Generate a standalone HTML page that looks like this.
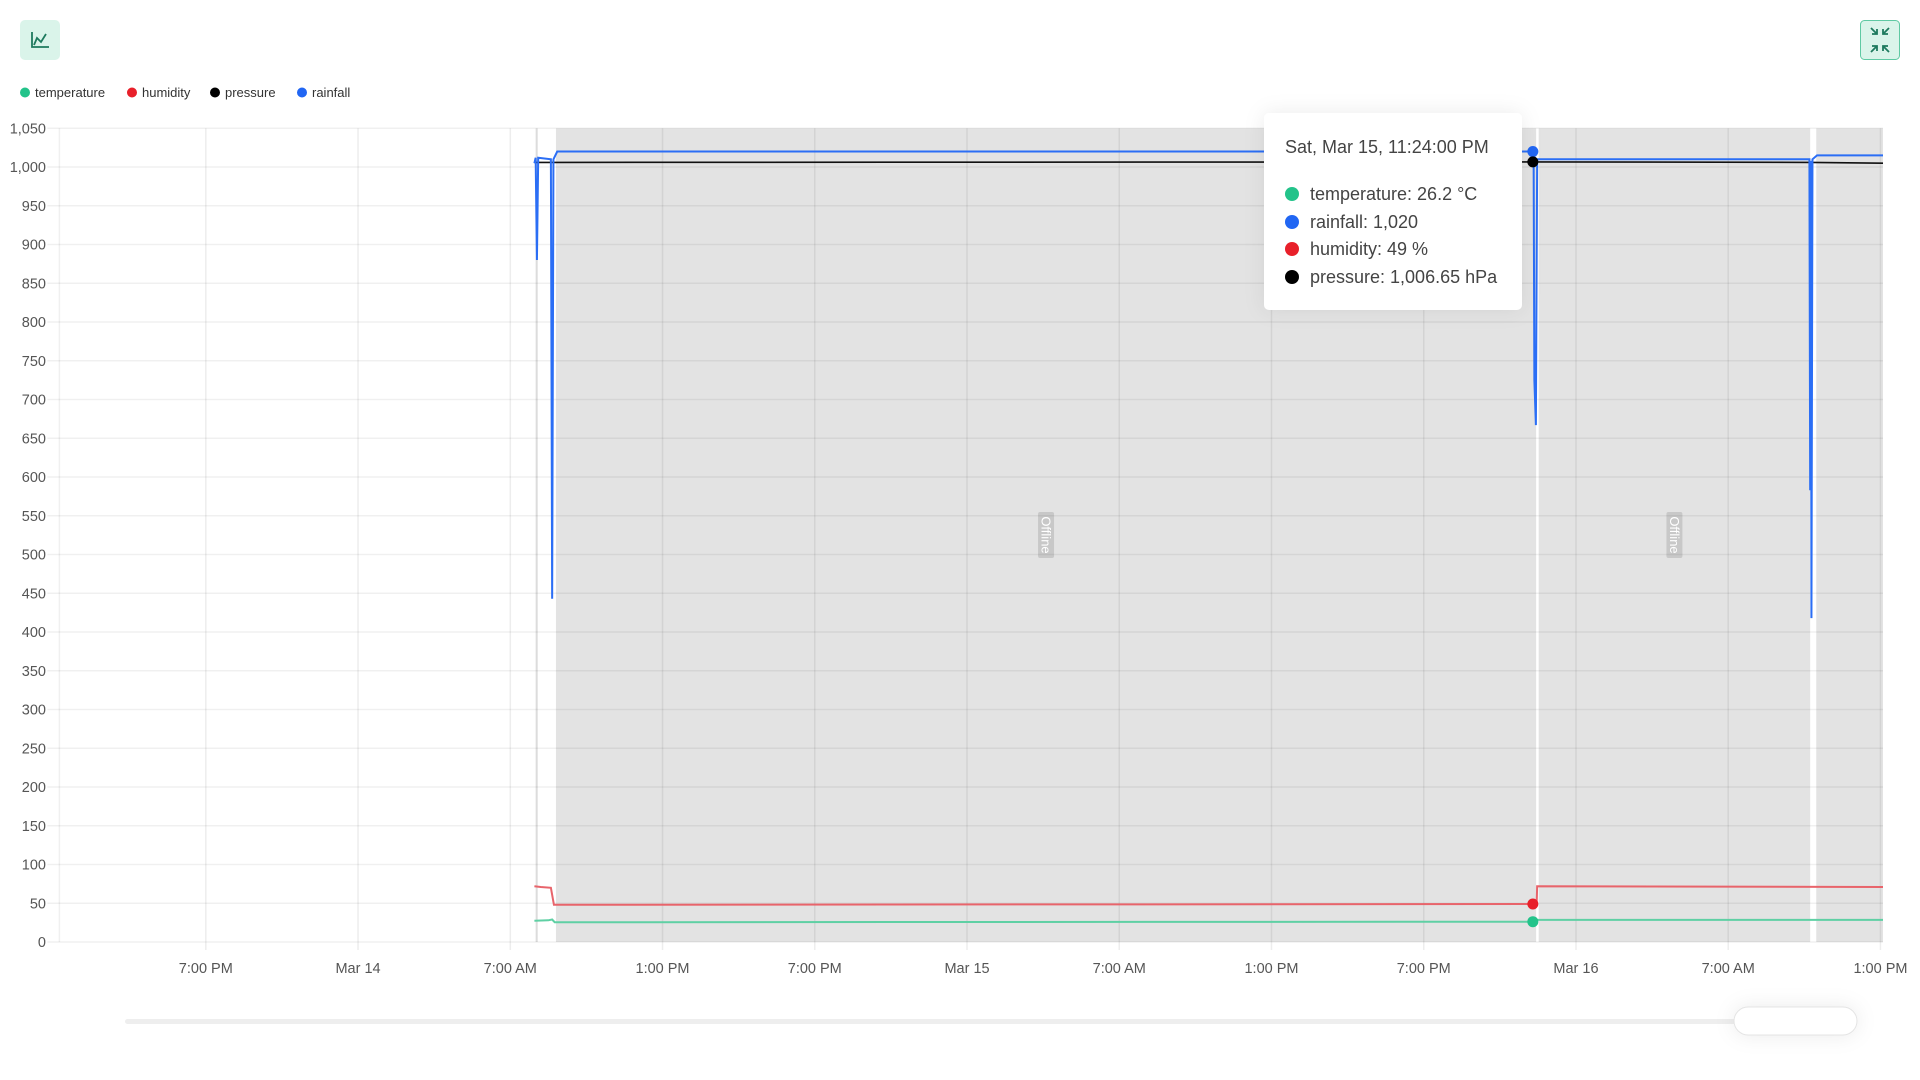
<!DOCTYPE html>
<html><head><meta charset="utf-8"><style>
html,body{margin:0;padding:0;background:#fff;width:1920px;height:1080px;overflow:hidden;font-family:"Liberation Sans",sans-serif}
svg{position:absolute;left:0;top:0}
</style></head><body>
<svg id="chart" width="1920" height="1080"></svg>
<script>
const yTicks=[0,50,100,150,200,250,300,350,400,450,500,550,600,650,700,750,800,850,900,950,1000,1050];
const xTickHours=[-6,0,6,12,18,24,30,36,42,48,54,60];
const xTickLabels=["7:00 PM","Mar 14","7:00 AM","1:00 PM","7:00 PM","Mar 15","7:00 AM","1:00 PM","7:00 PM","Mar 16","7:00 AM","1:00 PM"];
const offlineStart=[7.0,7.80,46.53,57.47];
const offlineEnd=[7.08,46.43,57.23,60.1];
const offlineLabeled=[false,true,true,false];
const rainT=[6.95,7.0,7.05,7.1,7.6,7.65,7.7,7.85,46.3,46.33,46.36,46.42,46.47,57.2,57.23,57.26,57.28,57.32,57.5,60.1];
const rainV=[1005,1012,880,1012,1010,443,1010,1020,1020,1020,725,667,1010,1010,583,1008,418,1010,1015,1015];
const presT=[6.95,7.8,46.3,57.3,60.1];
const presV=[1006,1006,1006.65,1006,1005];
const humT=[6.95,7.2,7.6,7.72,46.3,46.45,46.47,60.1];
const humV=[72,71,70,48,49,49,72,71];
const tempT=[6.95,7.5,7.65,7.75,46.3,46.45,60.1];
const tempV=[27.5,28,29,25.5,26.2,28.5,28.5];
const hoverT=46.3;
const hoverVals=[26.2,1020,49,1006.65];

const X0=59.4,X1=1883,T0=-11.77,T1=60.1,Y0=942,Y1=128.3,V1=1050;
const sx=t=>X0+(t-T0)/(T1-T0)*(X1-X0);
const sy=v=>Y0-v/V1*(Y0-Y1);
const svg=document.getElementById('chart');
const NS='http://www.w3.org/2000/svg';
function mk(tag,attrs,parent){const e=document.createElementNS(NS,tag);for(const k in attrs)e.setAttribute(k,attrs[k]);(parent||svg).appendChild(e);return e;}

offlineStart.forEach((s,i)=>{
  const r=mk('rect',{x:sx(s),y:Y1,width:sx(offlineEnd[i])-sx(s),height:Y0-Y1,fill:i===0?'#dcdcdc':'#e3e3e3'});
  
  
  if(offlineLabeled[i]){
    const cx=(sx(s)+sx(offlineEnd[i]))/2,cy=535;
    const bg=mk('rect',{x:cx-8,y:cy-23,width:16,height:46,fill:'#c8c8c8',rx:2});
    
    
    const t=mk('text',{x:cx,y:cy,fill:'#fff','font-size':13,'text-anchor':'middle','dominant-baseline':'central',transform:`rotate(90 ${cx} ${cy})`});
    t.textContent='Offline';
    
    
  }
});
yTicks.forEach(v=>{
  const l=mk('line',{x1:X0-12,x2:X1,y1:sy(v),y2:sy(v),stroke:'rgba(0,0,0,0.06)','stroke-width':1.5});
  
  
  const t=mk('text',{x:46,y:sy(v)+5,fill:'#555','font-size':14.5,'text-anchor':'end'});
  t.textContent=v.toLocaleString('en-US');
  
  
});
const vl=mk('line',{x1:X0,x2:X0,y1:Y1,y2:Y0,stroke:'rgba(0,0,0,0.06)','stroke-width':1.5});


xTickHours.forEach((h,i)=>{
  const l=mk('line',{x1:sx(h),x2:sx(h),y1:Y1,y2:Y0+8,stroke:'rgba(0,0,0,0.07)','stroke-width':1.5});
  
  
  const t=mk('text',{x:sx(h),y:973,fill:'#555','font-size':14.5,'text-anchor':'middle'});
  t.textContent=xTickLabels[i];
  
  
});
function series(T,V,color,w,name){
  const p=mk('polyline',{points:T.map((t,i)=>sx(t)+','+sy(V[i])).join(' '),fill:'none',stroke:color,'stroke-width':w});
  
  
}
series(tempT,tempV,'#5fd0a4',2,'temperature-line');
series(humT,humV,'#e8646b',2,'humidity-line');
series(presT,presV,'#111',1.6,'pressure-line');
series(rainT,rainV,'#2b6ef5',2,'rainfall-line');
const hc=['#23c38a','#2166f3','#e8202a','#000'];
hoverVals.forEach((v,i)=>{
  const c=mk('circle',{cx:sx(hoverT),cy:sy(v),r:5.5,fill:hc[i]});
  
  
});
</script>
<svg width="1920" height="1080" style="pointer-events:none">
 <g font-size="13" fill="#333" font-family="Liberation Sans, sans-serif">
  <g><circle cx="25" cy="92.5" r="5" fill="#23c38a"/><text x="35" y="97">temperature</text></g>
  <g><circle cx="132" cy="92.5" r="5" fill="#e8202a"/><text x="142" y="97">humidity</text></g>
  <g><circle cx="215" cy="92.5" r="5" fill="#000"/><text x="225" y="97">pressure</text></g>
  <g><circle cx="302" cy="92.5" r="5" fill="#2166f3"/><text x="312" y="97">rainfall</text></g>
 </g>
 <g>
  <rect x="20" y="20" width="40" height="40" rx="5" fill="#daf4ea"/>
  <path d="M32 32 V47 H49 M34 45 L37 38 L41 42 L46 34" fill="none" stroke="#1e7a5e" stroke-width="1.8"/>
 </g>
 <g>
  <rect x="1860.5" y="20.5" width="39" height="39" rx="4" fill="#daf4ea" stroke="#5fc9a3"/>
  <path d="M1872 34 H1877 V29 M1877 34 L1871 28 M1888 34 H1883 V29 M1883 34 L1889 28 M1872 46 H1877 V51 M1877 46 L1871 52 M1888 46 H1883 V51 M1883 46 L1889 52" fill="none" stroke="#1e7a5e" stroke-width="1.8"/>
 </g>
 <rect x="125" y="1019" width="1630" height="5" rx="2.5" fill="#eee"/>
 <defs><filter id="sh" x="-50%" y="-100%" width="200%" height="300%"><feDropShadow dx="0" dy="0" stdDeviation="10" flood-color="#000" flood-opacity="0.08"/></filter></defs>
 <rect x="1734" y="1007" width="123" height="28" rx="14" fill="#fff" stroke="#e4e4e4" filter="url(#sh)"/>
 <g font-family="Liberation Sans, sans-serif" fill="#444" font-size="18">
  <rect x="1264" y="113" width="258" height="197" rx="5" fill="#fff" filter="url(#sh)"/>
  <text x="1285" y="153">Sat, Mar 15, 11:24:00 PM</text>
  <circle cx="1292" cy="194" r="7" fill="#23c38a"/><text x="1310" y="200">temperature: 26.2 °C</text>
  <circle cx="1292" cy="222" r="7" fill="#2166f3"/><text x="1310" y="228">rainfall: 1,020</text>
  <circle cx="1292" cy="249" r="7" fill="#e8202a"/><text x="1310" y="255">humidity: 49 %</text>
  <circle cx="1292" cy="277" r="7" fill="#000"/><text x="1310" y="283">pressure: 1,006.65 hPa</text>
 </g>
</svg>
</body></html>
